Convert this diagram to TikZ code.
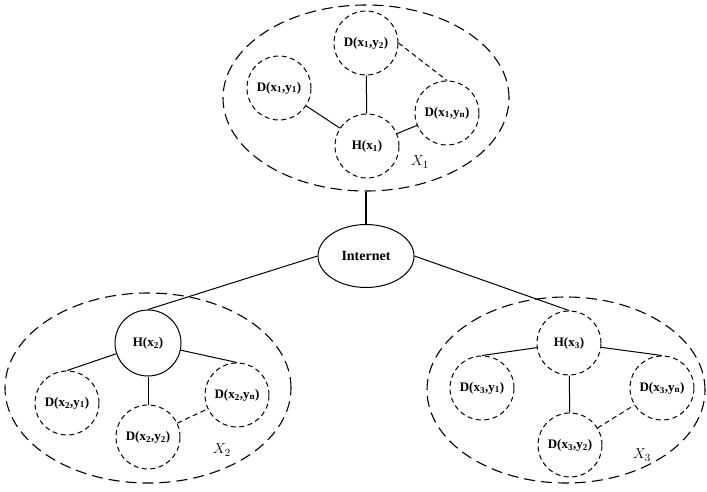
\documentclass[tikz,border=0pt]{standalone}
\usepackage{fontspec}
\setmainfont{Liberation Serif}
\usetikzlibrary{shapes.geometric}
\begin{document}
\begin{tikzpicture}[x=1pt,y=-1pt,
  dev/.style={circle,draw,dash pattern=on 5pt off 3.5pt,line width=1pt,minimum size=64pt,inner sep=0pt,font=\bfseries\fontsize{13}{15}\selectfont},
  hostsolid/.style={circle,draw,line width=1pt,minimum size=66pt,inner sep=0pt,font=\bfseries\fontsize{13}{15}\selectfont},
  region/.style={ellipse,draw,dash pattern=on 11pt off 6pt,line width=1.1pt,inner sep=0pt},
  link/.style={line width=1pt},
  dlink/.style={line width=1pt,dash pattern=on 5pt off 3.5pt},
  lab/.style={font=\fontsize{15}{17}\selectfont}]
\useasboundingbox (0,0) rectangle (707,491);
% regions
\node[region,minimum width=286pt,minimum height=186pt] (X1) at (366,98) {};
\node[region,minimum width=286pt,minimum height=190pt] (X2) at (148,388) {};
\node[region,minimum width=278pt,minimum height=186pt] (X3) at (566,390) {};
% top cluster
\node[dev] (d12) at (366,43) {D(x\textsubscript{1},y\textsubscript{2})};
\node[dev] (d11) at (279,88) {D(x\textsubscript{1},y\textsubscript{1})};
\node[dev] (d1n) at (447,113) {D(x\textsubscript{1},y\textsubscript{n})};
\node[dev] (h1) at (367,146) {H(x\textsubscript{1})};
\node[lab] (l1) at (420,162) {$X_1$};
% internet
\node[ellipse,draw,line width=1pt,minimum width=96pt,minimum height=63pt,inner sep=0pt,font=\bfseries\fontsize{14}{16}\selectfont] (inet) at (366,256) {Internet};
% left cluster
\node[hostsolid] (h2) at (148,343) {H(x\textsubscript{2})};
\node[dev] (d21) at (67,403) {D(x\textsubscript{2},y\textsubscript{1})};
\node[dev] (d22) at (148,437) {D(x\textsubscript{2},y\textsubscript{2})};
\node[dev] (d2n) at (237,395) {D(x\textsubscript{2},y\textsubscript{n})};
\node[lab] (l2) at (222,450) {$X_2$};
% right cluster
\node[dev] (h3) at (569,343) {H(x\textsubscript{3})};
\node[dev] (d31) at (482,388) {D(x\textsubscript{3},y\textsubscript{1})};
\node[dev] (d32) at (570,445) {D(x\textsubscript{3},y\textsubscript{2})};
\node[dev] (d3n) at (662,388) {D(x\textsubscript{3},y\textsubscript{n})};
\node[lab] (l3) at (642,455) {$X_3$};
% links
\draw[link] (d11) -- (h1);
\draw[link] (d12) -- (h1);
\draw[link] (h1) -- (d1n);
\draw[dlink] (d12.east) -- (d1n.north);
\draw[link,line width=1.4pt] (X1.south) -- (inet.north);
\draw[link] (inet.west) -- (h2.north);
\draw[link] (inet.east) -- (h3.north);
\draw[link] (h2) -- (d21.north);
\draw[link] (h2) -- (d22);
\draw[link] (h2) -- (d2n.north);
\draw[dlink] (d22) -- (d2n);
\draw[link] (h3) -- (d31.north);
\draw[link] (h3) -- (d32);
\draw[link] (h3) -- (d3n.north);
\draw[dlink] (d32) -- (d3n);
\end{tikzpicture}
\end{document}
